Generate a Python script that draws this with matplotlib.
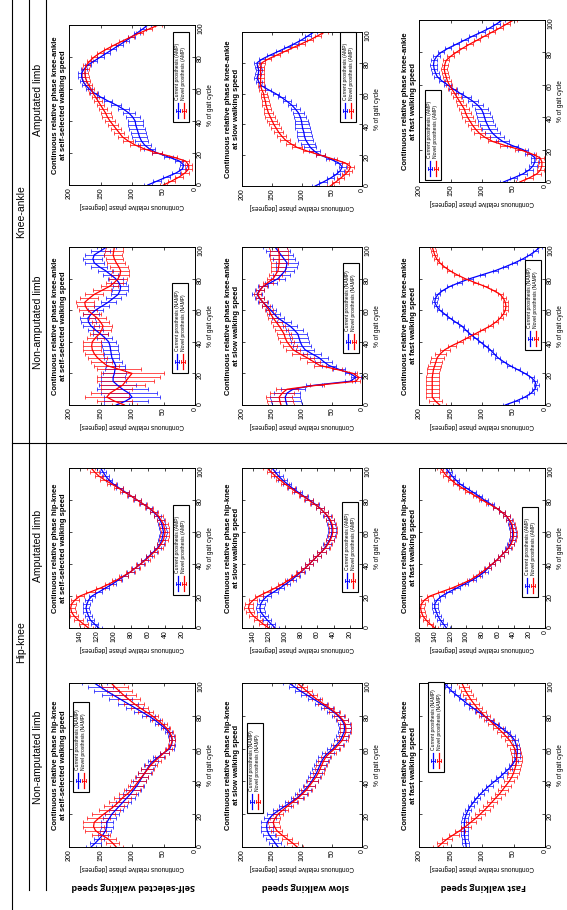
import matplotlib.pyplot as plt
from matplotlib.transforms import Affine2D
from matplotlib.lines import Line2D
from matplotlib.patches import Rectangle

plt.rcParams['font.family'] = ['Liberation Sans', 'DejaVu Sans']

W, H = 567, 910

# % of gait cycle (every 2.5 %)
gait = [i * 2.5 for i in range(41)]

# ---- hip-knee, non-amputated limb ----
hk_namp_self_cur = [165, 158, 152, 146, 142, 140, 140, 136, 132, 126, 120, 114, 108, 102, 97, 92, 88, 84, 80, 76,
                    72, 66, 58, 49, 40, 37, 36, 38, 42, 48, 56, 64, 74, 85, 96, 107, 118, 129, 140, 150, 160]
hk_namp_self_cur_sd = [8, 8, 8, 8, 9, 10, 10, 10, 11, 11, 12, 12, 12, 12, 12, 11, 11, 10, 10, 9,
                       9, 8, 8, 7, 6, 5, 5, 5, 5, 6, 7, 8, 10, 12, 14, 16, 18, 19, 20, 20, 20]
hk_namp_self_nov = [125, 131, 138, 149, 158, 161, 160, 153, 145, 136, 128, 121, 115, 107, 100, 95, 90, 85, 80, 75,
                    70, 63, 56, 49, 42, 38, 36, 37, 40, 45, 52, 60, 68, 78, 88, 97, 105, 113, 120, 127, 133]
hk_namp_self_nov_sd = [10, 11, 12, 14, 16, 17, 18, 18, 18, 17, 16, 15, 14, 13, 13, 12, 12, 11, 11, 10,
                       10, 9, 8, 7, 6, 5, 5, 5, 5, 6, 7, 8, 10, 12, 14, 16, 18, 19, 20, 20, 20]

hk_namp_slow_cur = [140, 145, 150, 155, 158, 159, 158, 154, 148, 138, 128, 118, 108, 101, 95, 89, 84, 80, 76, 73,
                    70, 67, 63, 56, 48, 42, 36, 33, 30, 29, 30, 34, 40, 48, 58, 69, 80, 91, 102, 112, 122]
hk_namp_slow_cur_sd = 10
hk_namp_slow_nov = [108, 116, 125, 134, 142, 146, 148, 145, 140, 132, 124, 115, 106, 99, 92, 87, 82, 77, 73, 70,
                    67, 64, 60, 53, 45, 39, 33, 30, 27, 27, 28, 32, 38, 46, 55, 65, 75, 84, 92, 100, 108]
hk_namp_slow_nov_sd = 9

hk_namp_fast_cur = [125, 126, 127, 128, 128, 128, 128, 127, 125, 122, 118, 113, 108, 102, 95, 88, 80, 72, 65, 58,
                    52, 48, 45, 44, 44, 46, 48, 53, 60, 69, 78, 88, 97, 106, 115, 124, 132, 140, 148, 154, 160]
hk_namp_fast_cur_sd = 5
hk_namp_fast_nov = [170, 163, 155, 145, 135, 126, 118, 110, 103, 96, 90, 84, 78, 72, 67, 62, 57, 53, 50, 48,
                    46, 45, 45, 46, 48, 52, 56, 62, 68, 75, 82, 89, 96, 102, 108, 113, 118, 122, 126, 129, 132]
hk_namp_fast_nov_sd = 8

# ---- hip-knee, amputated limb ----
hk_amp_self_cur = [118, 123, 128, 130, 132, 133, 132, 130, 126, 118, 110, 102, 95, 88, 81, 75, 69, 64, 59, 54,
                   49, 46, 44, 43, 42, 43, 44, 46, 49, 54, 59, 66, 73, 80, 87, 94, 101, 106, 110, 113, 116]
hk_amp_self_cur_sd = 4
hk_amp_self_nov = [130, 136, 142, 147, 150, 151, 150, 146, 140, 128, 116, 106, 97, 89, 81, 75, 69, 63, 58, 53,
                   48, 45, 42, 41, 40, 41, 42, 45, 48, 53, 59, 66, 73, 80, 88, 95, 103, 111, 118, 123, 127]
hk_amp_self_nov_sd = 5

hk_amp_slow_cur = [112, 117, 122, 126, 130, 131, 130, 127, 122, 114, 106, 99, 92, 86, 80, 75, 70, 65, 60, 55,
                   51, 48, 45, 43, 42, 42, 43, 45, 48, 52, 57, 63, 70, 77, 84, 91, 97, 103, 108, 112, 116]
hk_amp_slow_cur_sd = 5
hk_amp_slow_nov = [120, 127, 133, 139, 143, 145, 144, 139, 132, 122, 112, 103, 95, 88, 81, 75, 70, 65, 60, 55,
                   50, 47, 44, 42, 41, 41, 42, 44, 47, 52, 57, 64, 71, 78, 86, 93, 100, 106, 112, 117, 122]
hk_amp_slow_nov_sd = 5

hk_amp_fast_cur = [125, 129, 133, 136, 138, 140, 140, 137, 131, 122, 112, 102, 92, 84, 77, 72, 67, 61, 56, 51,
                   47, 44, 42, 41, 41, 42, 43, 46, 49, 55, 62, 69, 77, 84, 92, 100, 108, 113, 118, 122, 126]
hk_amp_fast_cur_sd = 4
hk_amp_fast_nov = [140, 146, 151, 155, 157, 158, 157, 153, 146, 132, 118, 106, 95, 87, 80, 73, 67, 61, 56, 51,
                   46, 43, 41, 40, 40, 41, 42, 45, 49, 55, 62, 71, 80, 88, 97, 105, 113, 119, 125, 129, 133]
hk_amp_fast_nov_sd = 4

# ---- knee-ankle, non-amputated limb ----
ka_namp_self_cur = [125, 110, 100, 105, 115, 123, 130, 130, 128, 127, 126, 129, 132, 133, 134, 135, 137, 143, 150, 158,
                    165, 169, 170, 165, 158, 148, 138, 130, 122, 119, 118, 121, 126, 134, 142, 152, 160, 162, 160, 150, 140]
ka_namp_self_cur_sd = [20, 35, 45, 45, 40, 30, 20, 19, 18, 16, 15, 13, 12, 12, 12, 12, 12, 12, 12, 12,
                       12, 12, 12, 12, 12, 12, 12, 12, 12, 12, 12, 12, 12, 12, 12, 13, 15, 15, 15, 15, 15]
ka_namp_self_nov = [112, 128, 140, 135, 125, 115, 110, 105, 100, 120, 140, 148, 155, 160, 163, 164, 163, 158, 152, 148,
                    146, 150, 155, 163, 170, 174, 175, 168, 160, 148, 136, 128, 122, 119, 118, 121, 125, 128, 130, 129, 128]
ka_namp_self_nov_sd = [20, 28, 35, 30, 25, 35, 45, 50, 50, 35, 20, 17, 15, 14, 14, 14, 14, 14, 14, 14,
                       14, 14, 14, 14, 14, 14, 14, 14, 14, 14, 14, 14, 14, 14, 14, 14, 14, 14, 14, 14, 14]

ka_namp_slow_cur = [125, 127, 128, 125, 115, 80, 20, 10, 20, 38, 55, 64, 72, 84, 95, 100, 103, 105, 107, 113,
                    120, 130, 140, 146, 152, 158, 165, 171, 175, 171, 165, 152, 140, 134, 128, 126, 125, 130, 135, 140, 145]
ka_namp_slow_cur_sd = [25, 25, 25, 22, 20, 14, 8, 8, 8, 10, 12, 14, 15, 15, 15, 15, 15, 15, 15, 14,
                       12, 11, 10, 9, 8, 8, 8, 8, 8, 8, 8, 10, 12, 14, 15, 17, 18, 19, 20, 20, 20]
ka_namp_slow_nov = [135, 137, 138, 133, 125, 75, 10, 5, 15, 42, 70, 81, 92, 104, 115, 120, 125, 128, 130, 134,
                    138, 143, 148, 152, 155, 160, 165, 170, 174, 170, 165, 157, 148, 144, 140, 139, 138, 138, 138, 139, 140]
ka_namp_slow_nov_sd = [22, 22, 22, 20, 18, 12, 6, 6, 6, 8, 10, 11, 12, 12, 12, 12, 12, 12, 12, 11,
                       10, 9, 8, 7, 6, 6, 6, 6, 6, 6, 6, 8, 10, 11, 12, 13, 14, 15, 15, 15, 15]

ka_namp_fast_cur = [63, 46, 32, 22, 16, 14, 16, 22, 32, 44, 56, 66, 75, 81, 87, 95, 103, 111, 119, 126,
                    132, 142, 151, 159, 167, 172, 175, 174, 170, 162, 151, 136, 119, 99, 79, 63, 48, 35, 24, 15, 8]
ka_namp_fast_cur_sd = 4
ka_namp_fast_nov = [167, 174, 179, 179, 179, 179, 179, 179, 178, 177, 175, 173, 171, 166, 159, 148, 135, 123, 111, 99,
                    87, 78, 71, 66, 63, 62, 63, 66, 71, 82, 95, 111, 127, 140, 151, 160, 167, 172, 175, 177, 179]
ka_namp_fast_nov_sd = [10, 10, 10, 10, 10, 10, 10, 10, 10, 10, 10, 10, 10, 9, 8, 6, 5, 4, 4, 4,
                       4, 4, 4, 4, 4, 4, 4, 4, 4, 4, 4, 4, 4, 4, 4, 4, 4, 4, 4, 4, 4]

# ---- knee-ankle, amputated limb ----
ka_amp_self_cur = [75, 60, 45, 30, 20, 18, 25, 42, 60, 72, 80, 85, 88, 90, 92, 94, 95, 99, 105, 114,
                   125, 138, 150, 160, 168, 174, 178, 180, 180, 176, 170, 160, 150, 140, 130, 120, 110, 101, 92, 83, 75]
ka_amp_self_nov = [50, 37, 25, 16, 10, 10, 15, 35, 60, 80, 95, 106, 115, 120, 125, 130, 135, 139, 142, 146,
                   150, 154, 158, 162, 165, 169, 172, 174, 175, 174, 172, 167, 160, 151, 140, 128, 115, 102, 88, 73, 58]
ka_amp_slow_cur = [78, 65, 53, 43, 36, 33, 39, 53, 69, 79, 86, 90, 94, 96, 97, 99, 100, 101, 103, 106,
                   111, 117, 125, 134, 144, 156, 167, 172, 175, 173, 172, 174, 175, 166, 153, 139, 125, 112, 100, 90, 80]
ka_amp_slow_nov = [53, 44, 36, 28, 22, 19, 28, 48, 69, 90, 108, 119, 128, 134, 139, 143, 147, 150, 153, 156,
                   158, 160, 161, 163, 164, 167, 169, 169, 169, 169, 169, 169, 167, 156, 142, 128, 114, 100, 86, 74, 62]
ka_amp_fast_cur = [66, 50, 35, 25, 19, 16, 16, 24, 35, 52, 67, 76, 83, 88, 91, 94, 96, 98, 101, 107,
                   115, 125, 136, 146, 155, 164, 171, 174, 176, 177, 176, 172, 165, 154, 141, 128, 115, 101, 88, 77, 68]
ka_amp_fast_nov = [40, 25, 13, 7, 5, 5, 8, 22, 40, 63, 83, 95, 104, 110, 115, 119, 123, 126, 128, 132,
                   136, 140, 144, 148, 152, 155, 157, 159, 160, 159, 157, 150, 141, 131, 120, 108, 96, 84, 72, 61, 50]
ka_amp_cur_sd = [6, 6, 6, 6, 6, 6, 6, 7, 8, 9, 10, 11, 12, 12, 12, 12, 12, 11, 10, 9,
                 8, 7, 6, 6, 5, 5, 5, 5, 5, 5, 5, 5, 5, 5, 5, 5, 5, 5, 5, 5, 5]
ka_amp_nov_sd = [6, 6, 6, 6, 6, 6, 6, 7, 8, 8, 8, 8, 8, 8, 8, 8, 8, 8, 8, 7,
                 6, 6, 6, 6, 5, 5, 5, 5, 5, 5, 5, 5, 5, 5, 5, 5, 5, 5, 5, 5, 5]

speeds = ['self-selected', 'slow', 'fast']
row_labels = ['Self-selected walking speed', 'slow walking speed', 'Fast walking speed']

fig = plt.figure(figsize=(W / 100, H / 100), dpi=100)
# image-pixel coordinates (y downwards), used for the hand drawn page furniture
px = Affine2D().scale(1 / W, -1 / H).translate(0, 1) + fig.transFigure


def panel(box, lims, ticks, joint, speed, cur, cur_sd, nov, nov_sd, tag, leg):
    x0, x1, y0, y1 = box
    ax = fig.add_axes([x0 / W, 1 - y1 / H, (x1 - x0) / W, (y1 - y0) / H])
    for m, s, c in ((cur, cur_sd, 'blue'), (nov, nov_sd, 'red')):
        eb = ax.errorbar(m, gait, xerr=s, color=c, lw=0.9, elinewidth=0.6,
                         capsize=1.4, capthick=0.6, ecolor=c)
        for part in eb[1] + eb[2]:
            part.set_alpha(0.8)
    ax.set_xlim(lims)
    ax.set_ylim(0, 100)
    ax.set_xticks(ticks)
    ax.set_yticks(range(0, 101, 20))
    ax.tick_params(direction='in', length=2.5, width=0.5, labelsize=5, pad=1.5,
                   top=True, right=True, labelleft=False, labelright=True)
    ax.tick_params(axis='both', labelrotation=90)
    for sp in ax.spines.values():
        sp.set_linewidth(0.7)
    ax.set_xlabel('Continuous relative phase [degrees]', rotation=180, fontsize=4.7, labelpad=2)
    ax.yaxis.set_label_position('right')
    ax.set_ylabel('% of gait cycle', fontsize=4.7, labelpad=2, rotation=90)
    ax.text(-0.015, 0.5, 'Continuous relative phase %s\nat %s walking speed' % (joint, speed),
            transform=ax.transAxes, rotation=90, ha='right', va='center',
            fontsize=5.5, fontweight='bold', multialignment='center', linespacing=1.25)

    # legend drawn by hand (it turns with the page)
    lx, ly = leg
    lw_, lh = 16, 90
    fig.add_artist(Rectangle((lx, ly - lh), lw_, lh, transform=px, facecolor='white',
                             edgecolor='black', lw=0.8, zorder=5))
    for i, (c, lab) in enumerate((('blue', 'Current prosthesis (%s)' % tag),
                                  ('red', 'Novel prosthesis (%s)' % tag))):
        cx = lx + 5 + 6 * i
        fig.add_artist(Line2D([cx, cx], [ly - 4, ly - 19], transform=px, color=c, lw=0.9, zorder=6))
        ym = ly - 11.5
        fig.add_artist(Line2D([cx - 2.3, cx + 2.3], [ym, ym], transform=px, color=c, lw=0.6, zorder=6))
        for dx in (-2.3, 2.3):
            fig.add_artist(Line2D([cx + dx, cx + dx], [ym - 1.3, ym + 1.3], transform=px,
                                  color=c, lw=0.6, zorder=6))
        fig.text(cx, ly - 22, lab, transform=px, rotation=90, rotation_mode='anchor',
                 ha='left', va='center', fontsize=3.6, zorder=6)


cols = [(69, 195), (242, 362), (419, 545)]
t200 = [0, 50, 100, 150, 200]
t140 = list(range(20, 141, 20))
t160 = list(range(0, 161, 20))

hk_namp = [(hk_namp_self_cur, hk_namp_self_cur_sd, hk_namp_self_nov, hk_namp_self_nov_sd),
           (hk_namp_slow_cur, hk_namp_slow_cur_sd, hk_namp_slow_nov, hk_namp_slow_nov_sd),
           (hk_namp_fast_cur, hk_namp_fast_cur_sd, hk_namp_fast_nov, hk_namp_fast_nov_sd)]
hk_amp = [(hk_amp_self_cur, hk_amp_self_cur_sd, hk_amp_self_nov, hk_amp_self_nov_sd),
          (hk_amp_slow_cur, hk_amp_slow_cur_sd, hk_amp_slow_nov, hk_amp_slow_nov_sd),
          (hk_amp_fast_cur, hk_amp_fast_cur_sd, hk_amp_fast_nov, hk_amp_fast_nov_sd)]
ka_namp = [(ka_namp_self_cur, ka_namp_self_cur_sd, ka_namp_self_nov, ka_namp_self_nov_sd),
           (ka_namp_slow_cur, ka_namp_slow_cur_sd, ka_namp_slow_nov, ka_namp_slow_nov_sd),
           (ka_namp_fast_cur, ka_namp_fast_cur_sd, ka_namp_fast_nov, ka_namp_fast_nov_sd)]
ka_amp = [(ka_amp_self_cur, ka_amp_cur_sd, ka_amp_self_nov, ka_amp_nov_sd),
          (ka_amp_slow_cur, ka_amp_cur_sd, ka_amp_slow_nov, ka_amp_nov_sd),
          (ka_amp_fast_cur, ka_amp_cur_sd, ka_amp_fast_nov, ka_amp_nov_sd)]

leg_hk_namp = [(73, 792), (247, 813), (428, 772)]
leg_hk_amp = [(173, 595), (342, 592), (522, 597)]
leg_ka_namp = [(172, 373), (343, 353), (525, 350)]
leg_ka_amp = [(173, 122), (340, 122), (425, 180)]
ka_amp_rows = [(25, 185), (32, 186), (20, 182)]
hk_amp_lims = [((153, 5), t140), ((153, 5), t140), ((160, 0), t160)]

for i, sp in enumerate(speeds):
    c0, c1 = cols[i]
    panel((c0, c1, 683, 847), (200, 0), t200, 'hip-knee', sp, *hk_namp[i], 'NAMP', leg_hk_namp[i])
    panel((c0, c1, 468, 628), hk_amp_lims[i][0], hk_amp_lims[i][1], 'hip-knee', sp, *hk_amp[i], 'AMP', leg_hk_amp[i])
    panel((c0, c1, 247, 405), (200, 0), t200, 'knee-ankle', sp, *ka_namp[i], 'NAMP', leg_ka_namp[i])
    r0, r1 = ka_amp_rows[i]
    panel((c0, c1, r0, r1), (200, 0), t200, 'knee-ankle', sp, *ka_amp[i], 'AMP', leg_ka_amp[i])

# table frame
for x, yb in ((12, 910), (29, 890), (46, 890)):
    fig.add_artist(Line2D([x, x], [0, yb], transform=px, color='black', lw=0.8))
fig.add_artist(Line2D([12, 567], [443, 443], transform=px, color='black', lw=0.8))

hdr = dict(transform=px, rotation=90, ha='center', va='center', fontsize=7.5)
fig.text(21, 642, 'Hip-knee', **hdr)
fig.text(21, 212, 'Knee-ankle', **hdr)
fig.text(38, 757, 'Non-amputated limb', **hdr)
fig.text(38, 546, 'Amputated limb', **hdr)
fig.text(38, 322, 'Non-amputated limb', **hdr)
fig.text(38, 100, 'Amputated limb', **hdr)

for x, lab in zip((133, 305, 483), row_labels):
    fig.text(x, 887, lab, transform=px, rotation=180, ha='center', va='center',
             fontsize=6.5, fontweight='bold', family=['Open Sans', 'DejaVu Sans'])

fig.savefig('out.png', dpi=100)
